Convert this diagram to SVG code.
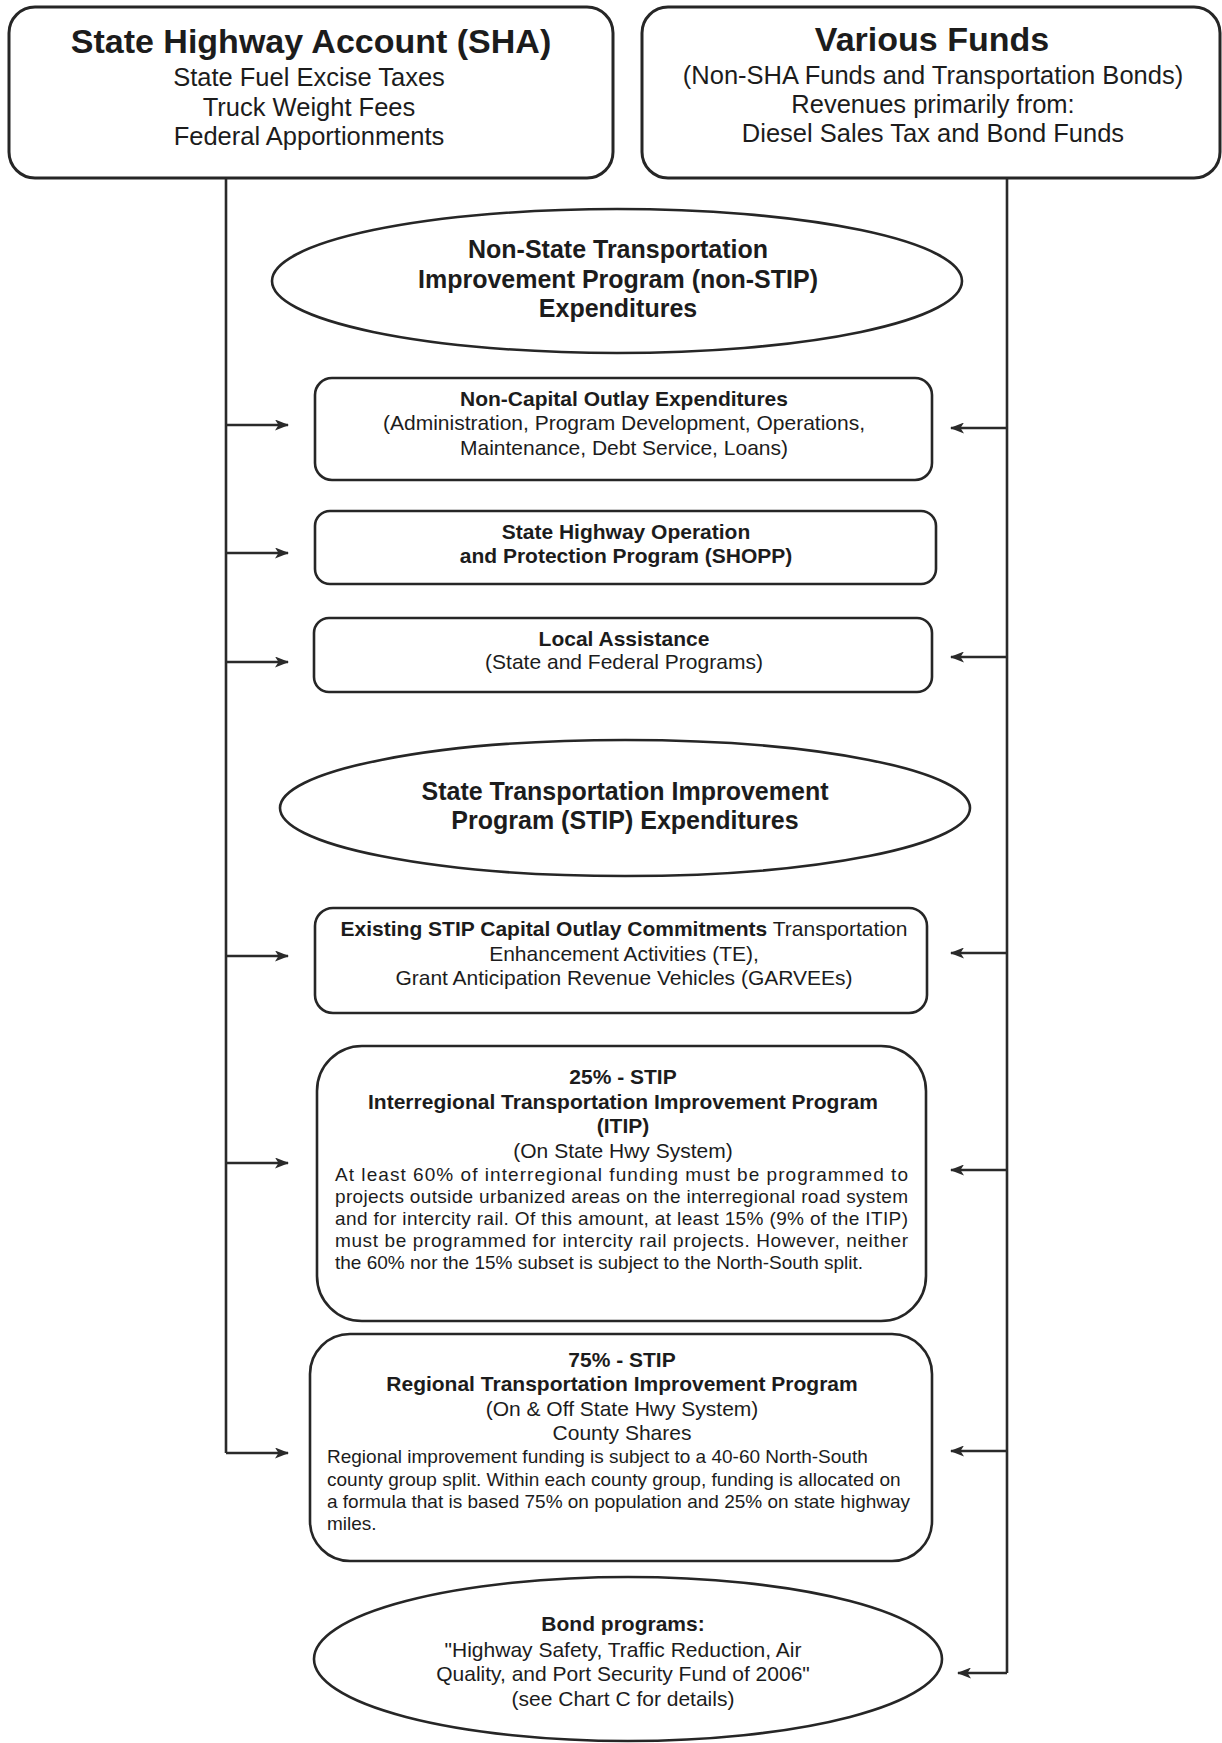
<svg xmlns="http://www.w3.org/2000/svg" width="1222" height="1743" viewBox="0 0 1222 1743">
<defs>
<marker id="ah" viewBox="0 0 14 11" refX="13" refY="5.5" markerWidth="14" markerHeight="11" markerUnits="userSpaceOnUse" orient="auto">
<path d="M0,0 L14,5.5 L0,11 L3.5,5.5 Z" fill="#2a2a2a"/>
</marker>
</defs>
<style>
text{font-family:"Liberation Sans",Arial,sans-serif;fill:#1c1c1c;text-anchor:middle}
.b{font-weight:bold}
.top{fill:#fff;stroke:#262626;stroke-width:3}
.box{fill:#fff;stroke:#262626;stroke-width:2.6}
.ell{fill:#fff;stroke:#262626;stroke-width:2.6}
.ln{fill:none;stroke:#2a2a2a;stroke-width:2.6}
.ar{fill:none;stroke:#2a2a2a;stroke-width:2.6;marker-end:url(#ah)}
.t34{font-size:34px}
.t24{font-size:25.5px}
.t25{font-size:25px}
.t21{font-size:21px}
.p{font-size:19px;text-anchor:start}
</style>
<rect width="1222" height="1743" fill="#fff"/>

<g id="connectors">
<polyline class="ln" points="226,178 226,1453"/>
<line class="ar" x1="226" y1="1453" x2="288" y2="1453"/>
<line class="ar" x1="226" y1="425" x2="288" y2="425"/>
<line class="ar" x1="226" y1="553" x2="288" y2="553"/>
<line class="ar" x1="226" y1="662" x2="288" y2="662"/>
<line class="ar" x1="226" y1="956" x2="288" y2="956"/>
<line class="ar" x1="226" y1="1163" x2="288" y2="1163"/>
<polyline class="ln" points="1007,178 1007,1673"/>
<line class="ar" x1="1007" y1="1673" x2="958" y2="1673"/>
<line class="ar" x1="1007" y1="428" x2="951" y2="428"/>
<line class="ar" x1="1007" y1="657" x2="951" y2="657"/>
<line class="ar" x1="1007" y1="953" x2="951" y2="953"/>
<line class="ar" x1="1007" y1="1170" x2="951" y2="1170"/>
<line class="ar" x1="1007" y1="1451" x2="951" y2="1451"/>
</g>

<g id="sha">
<rect class="top" x="9" y="7" width="604" height="171" rx="26"/>
<text class="b t34" x="311" y="53">State Highway Account (SHA)</text>
<text class="t24" x="309" y="86">State Fuel Excise Taxes</text>
<text class="t24" x="309" y="116">Truck Weight Fees</text>
<text class="t24" x="309" y="145">Federal Apportionments</text>
</g>

<g id="various-funds">
<rect class="top" x="642" y="7" width="578" height="171" rx="26"/>
<text class="b t34" x="932" y="51">Various Funds</text>
<text class="t24" x="933" y="84">(Non-SHA Funds and Transportation Bonds)</text>
<text class="t24" x="933" y="113">Revenues primarily from:</text>
<text class="t24" x="933" y="142">Diesel Sales Tax and Bond Funds</text>
</g>

<g id="non-stip">
<ellipse class="ell" cx="617" cy="281" rx="345" ry="72"/>
<text class="b t25" x="618" y="258">Non-State Transportation</text>
<text class="b t25" x="618" y="288">Improvement Program (non-STIP)</text>
<text class="b t25" x="618" y="317">Expenditures</text>
</g>

<g id="non-capital">
<rect class="box" x="315" y="378" width="617" height="102" rx="17"/>
<text class="b t21" x="624" y="406">Non-Capital Outlay Expenditures</text>
<text class="t21" x="624" y="430">(Administration, Program Development, Operations,</text>
<text class="t21" x="624" y="455">Maintenance, Debt Service, Loans)</text>
</g>

<g id="shopp">
<rect class="box" x="315" y="511" width="621" height="73" rx="15"/>
<text class="b t21" x="626" y="539">State Highway Operation</text>
<text class="b t21" x="626" y="563">and Protection Program (SHOPP)</text>
</g>

<g id="local-assistance">
<rect class="box" x="314" y="618" width="618" height="74" rx="15"/>
<text class="b t21" x="624" y="646">Local Assistance</text>
<text class="t21" x="624" y="669">(State and Federal Programs)</text>
</g>

<g id="stip">
<ellipse class="ell" cx="625" cy="808" rx="345" ry="68"/>
<text class="b t25" x="625" y="800">State Transportation Improvement</text>
<text class="b t25" x="625" y="829">Program (STIP) Expenditures</text>
</g>

<g id="existing-stip">
<rect class="box" x="315" y="908" width="612" height="105" rx="18"/>
<text class="t21" x="624" y="936"><tspan class="b">Existing STIP Capital Outlay Commitments</tspan> Transportation</text>
<text class="t21" x="624" y="961">Enhancement Activities (TE),</text>
<text class="t21" x="624" y="985">Grant Anticipation Revenue Vehicles (GARVEEs)</text>
</g>

<g id="itip">
<rect class="box" x="317" y="1046" width="609" height="275" rx="45"/>
<text class="b t21" x="623" y="1084">25% - STIP</text>
<text class="b t21" x="623" y="1109">Interregional Transportation Improvement Program</text>
<text class="b t21" x="623" y="1133">(ITIP)</text>
<text class="t21" x="623" y="1158">(On State Hwy System)</text>
<text class="p" x="335" y="1181" textLength="573" lengthAdjust="spacing">At least 60% of interregional funding must be programmed to</text>
<text class="p" x="335" y="1203" textLength="573" lengthAdjust="spacing">projects outside urbanized areas on the interregional road system</text>
<text class="p" x="335" y="1225" textLength="573" lengthAdjust="spacing">and for intercity rail.  Of this amount, at least 15% (9% of the ITIP)</text>
<text class="p" x="335" y="1247" textLength="573" lengthAdjust="spacing">must be programmed for intercity rail projects.  However, neither</text>
<text class="p" x="335" y="1269">the 60% nor the 15% subset is subject to the North-South split.</text>
</g>

<g id="rtip">
<rect class="box" x="310" y="1334" width="622" height="227" rx="40"/>
<text class="b t21" x="622" y="1367">75% - STIP</text>
<text class="b t21" x="622" y="1391">Regional Transportation Improvement Program</text>
<text class="t21" x="622" y="1416">(On &amp; Off State Hwy System)</text>
<text class="t21" x="622" y="1440">County Shares</text>
<text class="p" x="327" y="1463">Regional improvement funding is subject to a 40-60 North-South</text>
<text class="p" x="327" y="1486">county group split.  Within each county group, funding is allocated on</text>
<text class="p" x="327" y="1508">a formula that is based 75% on population and 25% on state highway</text>
<text class="p" x="327" y="1530">miles.</text>
</g>

<g id="bond-programs">
<ellipse class="ell" cx="628" cy="1659" rx="314" ry="82"/>
<text class="b t21" x="623" y="1631">Bond programs:</text>
<text class="t21" x="623" y="1657">"Highway Safety, Traffic Reduction, Air</text>
<text class="t21" x="623" y="1681">Quality, and Port Security Fund of 2006"</text>
<text class="t21" x="623" y="1706">(see Chart C for details)</text>
</g>
</svg>
